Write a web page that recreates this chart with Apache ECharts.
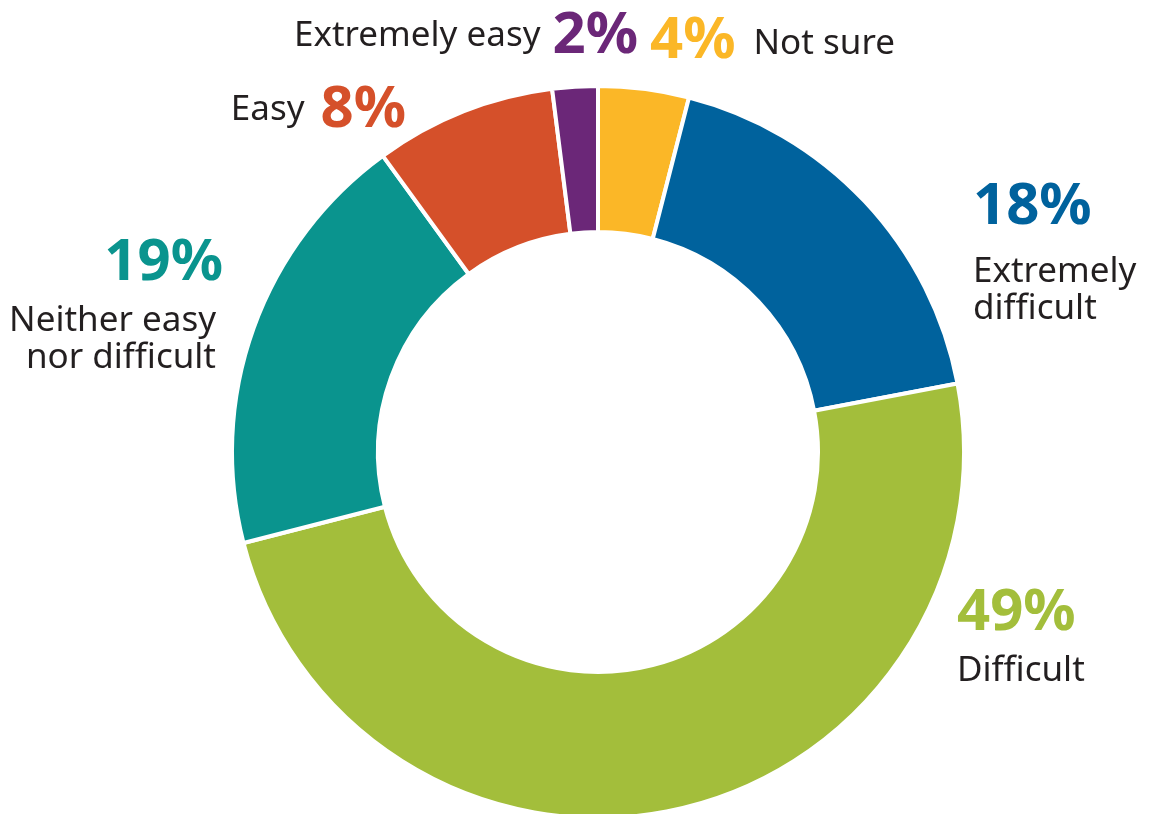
<!DOCTYPE html>
<html><head><meta charset="utf-8">
<script src="https://cdn.jsdelivr.net/npm/echarts@6/dist/echarts.min.js"></script>
<style>html,body{margin:0;padding:0;background:#fff}#c{width:1150px;height:814px}</style>
</head><body><div id="c"></div>
<script>
const categories = ['Not sure','Extremely difficult','Difficult','Neither easy nor difficult','Easy','Extremely easy'];
const values = [4, 18, 49, 19, 8, 2];
const nameLines = [['Not sure'], ['Extremely','difficult'], ['Difficult'], ['Neither easy','nor difficult'], ['Easy'], ['Extremely easy']];
const colors = ['#FBB727','#00629D','#A3BE3B','#0A948E','#D5502A','#6B2778'];

// label layout (styling only)
const FONT = 'Noto Sans';
const layouts = [
  {kind: 'pctFirst', x: 650, y: 41, align: 'left', verticalAlign: 'middle', gap: 18},
  {kind: 'stack', x: 973, y: 160, align: 'left', verticalAlign: 'top', pLH: 94},
  {kind: 'stack', x: 957, y: 574, align: 'left', verticalAlign: 'top', pLH: 79},
  {kind: 'stack', x: 223, y: 224, align: 'right', verticalAlign: 'top', pLH: 79, nPadR: 7},
  {kind: 'nameFirst', x: 406, y: 110, align: 'right', verticalAlign: 'middle', gap: 16},
  {kind: 'nameFirst', x: 638, y: 36, align: 'right', verticalAlign: 'middle', gap: 12}
];

function buildLabel(i) {
  const L = layouts[i];
  const pct = values[i] + '%';
  const rich = {
    p: {fontSize: 58, fontWeight: 'bold', color: colors[i], fontFamily: FONT, lineHeight: L.pLH || 68},
    n: {fontSize: 35, color: '#231F20', fontFamily: FONT, lineHeight: 37}
  };
  let formatter;
  if (L.kind === 'stack') {
    if (L.nPadR) rich.n.padding = [0, L.nPadR, 0, 0];
    formatter = '{p|' + pct + '}\n' + nameLines[i].map(s => '{n|' + s + '}').join('\n');
  } else if (L.kind === 'pctFirst') {
    rich.n.padding = [6, 0, 0, L.gap];
    formatter = '{p|' + pct + '}{n|' + nameLines[i][0] + '}';
  } else {
    rich.n.padding = [0, L.gap, 0, 0];
    formatter = '{n|' + nameLines[i][0] + '}{p|' + pct + '}';
  }
  return {show: true, formatter: formatter, rich: rich};
}

const chart = echarts.init(document.getElementById('c'));
chart.setOption({
  animation: false,
  series: [{
    type: 'pie',
    center: [598, 452],
    radius: [220, 366],
    startAngle: 90,
    clockwise: true,
    avoidLabelOverlap: false,
    itemStyle: {borderColor: '#fff', borderWidth: 4},
    labelLine: {show: false},
    labelLayout: p => {
      const L = layouts[p.dataIndex];
      return {x: L.x, y: L.y, align: L.align, verticalAlign: L.verticalAlign};
    },
    data: categories.map((n, i) => ({name: n, value: values[i], itemStyle: {color: colors[i]}, label: buildLabel(i)}))
  }]
});
</script></body></html>
